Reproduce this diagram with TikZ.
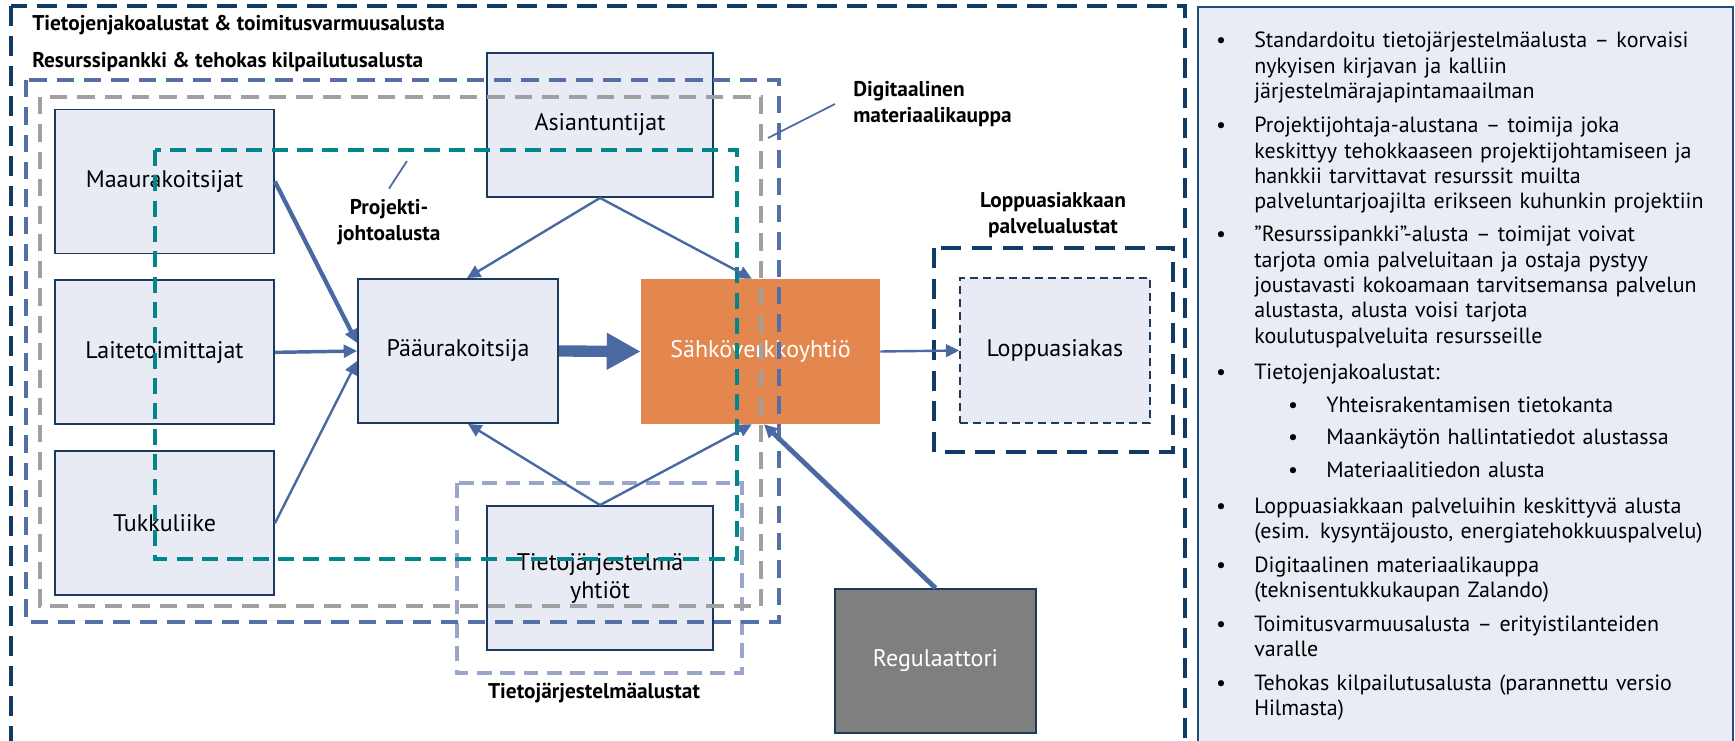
\documentclass[tikz,border=0pt]{standalone}
\usepackage{fontspec}
\setmainfont{PT Sans}
\usetikzlibrary{arrows.meta,positioning}

\definecolor{navy}{HTML}{1C3A5E}
\definecolor{darknavy}{HTML}{103A64}
\definecolor{boxfill}{HTML}{E8EBF4}
\definecolor{linkblue}{HTML}{4A69A3}
\definecolor{frameblue}{HTML}{5570A6}
\definecolor{framegray}{HTML}{A0A0A0}
\definecolor{frameteal}{HTML}{00868B}
\definecolor{framelav}{HTML}{9AA5CA}
\definecolor{gridorange}{HTML}{E4874E}
\definecolor{regugray}{HTML}{7F7F7F}
\definecolor{panelfill}{HTML}{E9ECF5}
\definecolor{panelline}{HTML}{1F4E79}

\tikzset{
  actor/.style={draw=navy,line width=1.4pt,fill=boxfill,minimum width=164.25pt,minimum height=108pt,align=center,font=\fontsize{18}{21}\selectfont},
  gridbox/.style={fill=gridorange,text=white,minimum width=179.25pt,minimum height=108.75pt,font=\fontsize{18}{21}\selectfont},
  regubox/.style={draw=navy,line width=1.4pt,fill=regugray,text=white,minimum width=150.75pt,minimum height=108pt,font=\fontsize{18}{21}\selectfont},
  endbox/.style={draw=navy,line width=1.1pt,dash pattern=on 6pt off 3.75pt,fill=boxfill,minimum width=142.5pt,minimum height=108.75pt,font=\fontsize{18}{21}\selectfont},
  heading/.style={font=\bfseries\fontsize{16}{19}\selectfont,inner sep=0pt},
  link/.style={draw=linkblue,line width=1.8pt,-{Triangle[length=10pt,width=9.5pt]}},
  bigarrow/.style={draw=linkblue,line width=8.5pt,-{Triangle[length=25.5pt,width=26pt]}},
  pointer/.style={draw=linkblue,line width=1.3pt},
  outerframe/.style={draw=darknavy,line width=3pt,dash pattern=on 15pt off 7.5pt},
  resframe/.style={draw=frameblue,line width=2.6pt,dash pattern=on 13pt off 7.5pt},
  digiframe/.style={draw=framegray,line width=2.6pt,dash pattern=on 13pt off 7.5pt},
  projframe/.style={draw=frameteal,line width=2.3pt,dash pattern=on 12pt off 7pt},
  itframe/.style={draw=framelav,line width=2.3pt,dash pattern=on 11pt off 6.5pt},
  endframe/.style={draw=darknavy,line width=3pt,dash pattern=on 15pt off 8pt},
  ptext/.style={anchor=base west,inner sep=0pt,text width=365pt,align=left,font=\fontsize{16.5}{19}\selectfont},
  pbullet/.style={anchor=base,inner sep=0pt,font=\fontsize{16.5}{19}\selectfont}
}

\begin{document}
\begin{tikzpicture}[x=0.75pt,y=-0.75pt]
\useasboundingbox (0,0) rectangle (1735,741);

% right-hand panel
\draw[draw=panelline,line width=1.6pt,fill=panelfill] (1198,7) rectangle (1733,760);

\node[ptext] (stand) at (1254,48) {Standardoitu tietojärjestelmäalusta – korvaisi\\nykyisen kirjavan ja kalliin\\järjestelmärajapintamaailman};
\node[ptext] (projj) at (1254,133) {Projektijohtaja-alustana – toimija joka\\keskittyy tehokkaaseen projektijohtamiseen ja\\hankkii tarvittavat resurssit muilta\\palveluntarjoajilta erikseen kuhunkin projektiin};
\node[ptext] (respa) at (1254,242) {”Resurssipankki”-alusta – toimijat voivat\\tarjota omia palveluitaan ja ostaja pystyy\\joustavasti kokoamaan tarvitsemansa palvelun\\alustasta, alusta voisi tarjota\\koulutuspalveluita resursseille};
\node[ptext] (tjako) at (1254,380) {Tietojenjakoalustat:};
\node[ptext] (yhteis) at (1326,412) {Yhteisrakentamisen tietokanta};
\node[ptext] (maank) at (1326,445) {Maankäytön hallintatiedot alustassa};
\node[ptext] (mater) at (1326,478) {Materiaalitiedon alusta};
\node[ptext] (lopal) at (1254,513) {Loppuasiakkaan palveluihin keskittyvä alusta\\(esim. kysyntäjousto, energiatehokkuuspalvelu)};
\node[ptext] (digit) at (1254,572) {Digitaalinen materiaalikauppa\\(teknisentukkukaupan Zalando)};
\node[ptext] (toimv) at (1254,631) {Toimitusvarmuusalusta – erityistilanteiden\\varalle};
\node[ptext] (tehok) at (1254,690) {Tehokas kilpailutusalusta (parannettu versio\\Hilmasta)};

\foreach \y in {48,133,242,380,513,572,631,690}
  \node[pbullet] at (1221,\y) {•};
\foreach \y in {412,445,478}
  \node[pbullet] at (1293,\y) {•};

% actors
\node[actor] (maa) at (164.5,181.5) {Maaurakoitsijat};
\node[actor,below=18.75pt of maa] (lait) {Laitetoimittajat};
\node[actor,below=18.75pt of lait] (tukku) {Tukkuliike};
\node[actor,minimum width=150pt] (paa) at (458,351) {Pääurakoitsija};
\node[actor,minimum width=169.5pt] (asi) at (600,125) {Asiantuntijat};
\node[actor,minimum width=169.5pt] (tieto) at (600,578) {Tietojärjestelmä\\yhtiöt};
\node[gridbox] (sahko) at (760.5,351.5) {Sähköverkkoyhtiö};
\node[regubox] (regu) at (935.5,661) {Regulaattori};
\node[endbox] (loppu) at (1055,350.5) {Loppuasiakas};

% platforms
\draw[itframe] (457,483) rectangle (742,673);
\draw[outerframe] (11,6) rectangle (1185,760);
\draw[resframe] (26,80) rectangle (779,622);
\draw[digiframe] (40,97) rectangle (761,606);
\draw[projframe] (155,150) rectangle (737,559);
\draw[endframe] (934,248) rectangle (1173,452);

\node[heading,anchor=west] (tietojako) at (32,25) {Tietojenjakoalustat \& toimitusvarmuusalusta};
\node[heading,anchor=west] (resurssi) at (32,62) {Resurssipankki \& tehokas kilpailutusalusta};
\node[heading,align=center] (projlbl) at (389,222) {Projekti-\\johtoalusta};
\node[heading,align=left,anchor=west] (digilbl) at (853,104) {Digitaalinen\\materiaalikauppa};
\node[heading,align=center] (endlbl) at (1053,215) {Loppuasiakkaan\\palvelualustat};
\node[heading] (itlbl) at (594,693) {Tietojärjestelmäalustat};

\coordinate (projtip) at (407,161);
\coordinate (digitip) at (768,138);
\draw[pointer] ([yshift=8pt]projlbl.north) -- (projtip);
\draw[pointer] ([xshift=-13.5pt]digilbl.west) -- (digitip);

% flows
\draw[link,line width=3.2pt] (maa.east) -- ([yshift=6pt]paa.west);
\draw[link,line width=2.6pt] (lait.east) -- (paa.west);
\draw[link] (tukku.east) -- ([yshift=-7.5pt]paa.west);
\draw[bigarrow] (paa.east) -- (sahko.west);
\draw[link] (asi.south) -- ([xshift=6.75pt]paa.north);
\draw[link] (asi.south) -- ([xshift=-6.5pt]sahko.north);
\draw[link] (tieto.north) -- ([xshift=7.5pt]paa.south);
\draw[link] (tieto.north) -- ([xshift=-6.5pt]sahko.south);
\draw[link,line width=3.6pt] (regu.north) -- ([xshift=2.6pt]sahko.south);
\draw[link] (sahko.east) -- (loppu.west);
\end{tikzpicture}
\end{document}
